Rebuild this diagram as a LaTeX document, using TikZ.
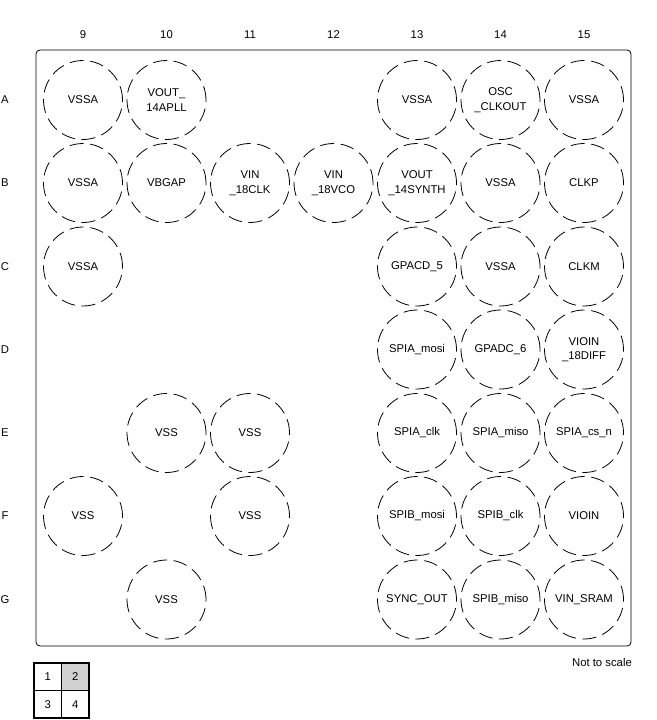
\documentclass[tikz,border=0pt]{standalone}
\usepackage{fontspec}
\setmainfont{Liberation Sans}
\usepackage{tikz}

\tikzset{
  pin/.style={circle, draw, minimum size=79pt, inner sep=0pt, align=center,
    dash pattern=on 14pt off 6.5pt, line width=0.8pt},
  lbl/.style={inner sep=0pt}
}

\begin{document}
\begin{tikzpicture}[x=1pt, y=-1pt, font=\fontsize{11.3}{14.5}\selectfont]
    \useasboundingbox (0,0) rectangle (656,720);
    \draw[rounded corners=4pt, line width=0.8pt] (36,50) rectangle (631,646);

    % column numbers
    \node[lbl] (c9)  at (83,35)    {9};
    \node[lbl] (c10) at (166.5,35) {10};
    \node[lbl] (c11) at (250,35)   {11};
    \node[lbl] (c12) at (333.5,35) {12};
    \node[lbl] (c13) at (417,35)   {13};
    \node[lbl] (c14) at (500.5,35) {14};
    \node[lbl] (c15) at (584,35)   {15};

    % row letters
    \node[lbl] (rA) at (5,100)   {A};
    \node[lbl] (rB) at (5,183)   {B};
    \node[lbl] (rC) at (5,266.5) {C};
    \node[lbl] (rD) at (5,349.5) {D};
    \node[lbl] (rE) at (5,433)   {E};
    \node[lbl] (rF) at (5,516)   {F};
    \node[lbl] (rG) at (5,599.5) {G};

    % row A
    \node[pin] (A9)  at (83,100)    {VSSA};
    \node[pin] (A10) at (166.5,100) {VOUT\_\\14APLL};
    \node[pin] (A13) at (417,100)   {VSSA};
    \node[pin] (A14) at (500.5,100) {OSC\\\_CLKOUT};
    \node[pin] (A15) at (584,100)   {VSSA};
    % row B
    \node[pin] (B9)  at (83,183)    {VSSA};
    \node[pin] (B10) at (166.5,183) {VBGAP};
    \node[pin] (B11) at (250,183)   {VIN\\\_18CLK};
    \node[pin] (B12) at (333.5,183) {VIN\\\_18VCO};
    \node[pin] (B13) at (417,183)   {VOUT\\\_14SYNTH};
    \node[pin] (B14) at (500.5,183) {VSSA};
    \node[pin] (B15) at (584,183)   {CLKP};
    % row C
    \node[pin] (C9)  at (83,266.5)    {VSSA};
    \node[pin] (C13) at (417,266.5)   {GPACD\_5};
    \node[pin] (C14) at (500.5,266.5) {VSSA};
    \node[pin] (C15) at (584,266.5)   {CLKM};
    % row D
    \node[pin] (D13) at (417,349.5)   {SPIA\_mosi};
    \node[pin] (D14) at (500.5,349.5) {GPADC\_6};
    \node[pin] (D15) at (584,349.5)   {VIOIN\\\_18DIFF};
    % row E
    \node[pin] (E10) at (166.5,433) {VSS};
    \node[pin] (E11) at (250,433)   {VSS};
    \node[pin] (E13) at (417,433)   {SPIA\_clk};
    \node[pin] (E14) at (500.5,433) {SPIA\_miso};
    \node[pin] (E15) at (584,433)   {SPIA\_cs\_n};
    % row F
    \node[pin] (F9)  at (83,516)    {VSS};
    \node[pin] (F11) at (250,516)   {VSS};
    \node[pin] (F13) at (417,516)   {SPIB\_mosi};
    \node[pin] (F14) at (500.5,516) {SPIB\_clk};
    \node[pin] (F15) at (584,516)   {VIOIN};
    % row G
    \node[pin] (G10) at (166.5,599.5) {VSS};
    \node[pin] (G13) at (417,599.5)   {SYNC\_OUT};
    \node[pin] (G14) at (500.5,599.5) {SPIB\_miso};
    \node[pin] (G15) at (584,599.5)   {VIN\_SRAM};

    \node[lbl, anchor=east] (scale) at (632,662) {Not to scale};

    % quadrant key
    \fill[black!18] (61.5,663) rectangle (89,690.5);
    \draw[line width=1.2pt] (34,663) rectangle (89,718);
    \draw[line width=1.2pt] (61.5,663) -- (61.5,718);
    \draw[line width=1.2pt] (34,690.5) -- (89,690.5);
    \node[lbl] (q1) at (47.75,676.75) {1};
    \node[lbl] (q2) at (75.25,676.75) {2};
    \node[lbl] (q3) at (47.75,704.25) {3};
    \node[lbl] (q4) at (75.25,704.25) {4};
\end{tikzpicture}
\end{document}
